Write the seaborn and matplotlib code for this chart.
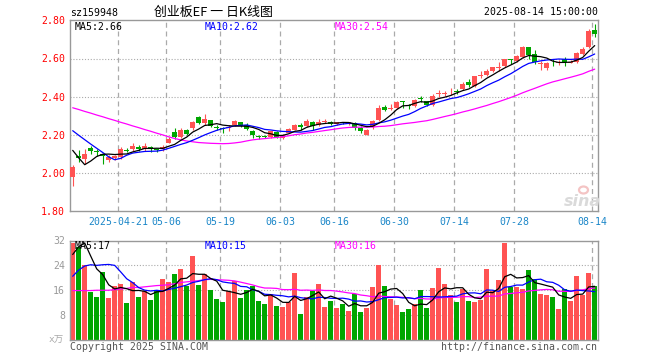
import numpy as np
import pandas as pd
import matplotlib
matplotlib.use("Agg")
import matplotlib.pyplot as plt
import seaborn as sns
from matplotlib.patches import Ellipse

# ---------------- data ----------------
opens = [1.982, 2.090, 2.072, 2.130, 2.115, 2.100, 2.070, 2.078, 2.085, 2.122,
         2.128, 2.137, 2.125, 2.138, 2.122, 2.125, 2.155, 2.213, 2.190, 2.228,
         2.235, 2.295, 2.263, 2.277, 2.240, 2.234, 2.238, 2.250, 2.266, 2.252,
         2.218, 2.196, 2.192, 2.190, 2.213, 2.185, 2.210, 2.228, 2.252, 2.246,
         2.268, 2.250, 2.270, 2.270, 2.255, 2.268, 2.262, 2.263, 2.237, 2.202,
         2.240, 2.277, 2.345, 2.338, 2.342, 2.375, 2.357, 2.352, 2.390, 2.377,
         2.357, 2.415, 2.415, 2.428, 2.430, 2.438, 2.477, 2.455, 2.510, 2.513,
         2.532, 2.550, 2.562, 2.595, 2.585, 2.610, 2.660, 2.622, 2.572, 2.548,
         2.584, 2.578, 2.600, 2.578, 2.582, 2.623, 2.660, 2.748]
highs = [2.044, 2.120, 2.124, 2.142, 2.128, 2.100, 2.095, 2.095, 2.135, 2.130,
         2.155, 2.148, 2.155, 2.140, 2.128, 2.148, 2.190, 2.238, 2.237, 2.232,
         2.272, 2.300, 2.312, 2.280, 2.250, 2.242, 2.250, 2.280, 2.270, 2.260,
         2.225, 2.200, 2.200, 2.222, 2.220, 2.205, 2.236, 2.258, 2.260, 2.285,
         2.272, 2.285, 2.285, 2.275, 2.270, 2.270, 2.270, 2.270, 2.245, 2.230,
         2.278, 2.356, 2.356, 2.360, 2.378, 2.376, 2.363, 2.390, 2.405, 2.380,
         2.412, 2.433, 2.432, 2.447, 2.440, 2.477, 2.495, 2.510, 2.535, 2.544,
         2.557, 2.580, 2.600, 2.600, 2.618, 2.663, 2.662, 2.645, 2.587, 2.583,
         2.600, 2.590, 2.610, 2.590, 2.635, 2.660, 2.757, 2.780]
lows = [1.933, 2.060, 2.050, 2.098, 2.088, 2.050, 2.058, 2.070, 2.075, 2.108,
        2.118, 2.115, 2.118, 2.110, 2.112, 2.118, 2.155, 2.180, 2.182, 2.200,
        2.228, 2.255, 2.250, 2.240, 2.228, 2.210, 2.220, 2.245, 2.240, 2.226,
        2.185, 2.180, 2.185, 2.185, 2.185, 2.180, 2.208, 2.225, 2.228, 2.240,
        2.228, 2.245, 2.260, 2.250, 2.250, 2.255, 2.250, 2.224, 2.210, 2.200,
        2.230, 2.272, 2.324, 2.332, 2.338, 2.340, 2.337, 2.348, 2.370, 2.350,
        2.350, 2.400, 2.403, 2.410, 2.412, 2.435, 2.453, 2.450, 2.500, 2.510,
        2.528, 2.535, 2.558, 2.570, 2.580, 2.605, 2.596, 2.570, 2.540, 2.542,
        2.562, 2.565, 2.562, 2.575, 2.578, 2.620, 2.655, 2.712]
closes = [2.030, 2.080, 2.100, 2.115, 2.110, 2.088, 2.085, 2.088, 2.125, 2.115,
          2.142, 2.125, 2.140, 2.124, 2.120, 2.138, 2.180, 2.190, 2.228, 2.207,
          2.268, 2.260, 2.284, 2.247, 2.236, 2.230, 2.243, 2.275, 2.246, 2.232,
          2.200, 2.190, 2.189, 2.218, 2.190, 2.200, 2.232, 2.254, 2.240, 2.272,
          2.245, 2.268, 2.273, 2.256, 2.266, 2.264, 2.265, 2.238, 2.220, 2.228,
          2.275, 2.342, 2.330, 2.342, 2.374, 2.372, 2.353, 2.384, 2.387, 2.358,
          2.405, 2.418, 2.419, 2.432, 2.425, 2.465, 2.460, 2.508, 2.514, 2.535,
          2.553, 2.555, 2.596, 2.590, 2.614, 2.660, 2.618, 2.580, 2.576, 2.578,
          2.580, 2.582, 2.582, 2.583, 2.630, 2.650, 2.745, 2.730]
volumes = [31.1, 29.9, 24.0, 15.5, 13.9, 21.9, 13.5, 17.3, 17.9, 11.9,
           18.7, 13.9, 15.8, 12.8, 16.2, 19.5, 18.7, 21.1, 22.8, 17.3,
           26.9, 17.6, 21.1, 16.0, 13.1, 12.2, 15.8, 19.0, 13.4, 16.0,
           17.4, 12.5, 11.7, 14.9, 10.9, 10.6, 12.3, 21.5, 8.3, 13.7,
           15.8, 17.9, 10.6, 12.6, 10.3, 11.5, 9.3, 14.9, 9.0, 10.3,
           17.1, 24.0, 17.3, 13.2, 11.2, 9.0, 9.9, 11.7, 16.0, 10.3,
           16.6, 23.0, 17.9, 14.4, 12.2, 16.5, 12.5, 12.2, 13.0, 22.7,
           15.7, 19.2, 31.1, 16.9, 16.9, 16.3, 22.4, 19.7, 14.7, 14.4,
           13.8, 9.9, 16.3, 12.6, 20.5, 14.5, 21.4, 17.3]

# moving-average values at the start of the window (history before the first candle)
ma5_head = [2.119, 2.080, 2.044, 2.063]
ma10_head = [2.222, 2.198, 2.175, 2.152, 2.130, 2.108, 2.085, 2.070, 2.077]
ma30_head = [2.342, 2.333, 2.323, 2.314, 2.304, 2.295, 2.285, 2.276, 2.266, 2.257,
             2.247, 2.238, 2.228, 2.219, 2.209, 2.200, 2.190, 2.181, 2.174, 2.168,
             2.164, 2.160, 2.158, 2.156, 2.155, 2.154, 2.155, 2.158, 2.162]
vma5_head = [27.5, 30.0, 31.2, 27.0]
vma10_head = [20.5, 22.5, 23.8, 24.2, 24.0, 24.2, 24.3, 24.0, 21.9]
vma30_head = [15.9, 15.9, 15.9, 15.9, 16.0, 16.0, 16.0, 16.2, 16.4, 16.6,
              16.9, 16.9, 17.1, 17.3, 17.5, 17.6, 17.8, 18.1, 18.5, 18.7,
              18.9, 19.1, 19.4, 19.5, 19.4, 19.3, 19.2, 19.0, 18.6]

tick_idx = [8, 16, 25, 35, 44, 54, 64, 74, 87]
tick_labels = ["2025-04-21", "05-06", "05-19", "06-03", "06-16",
               "06-30", "07-14", "07-28", "08-14"]
price_ticks = [1.80, 2.00, 2.20, 2.40, 2.60, 2.80]
vol_ticks = [8, 16, 24, 32]

title_code = "sz159948"
title_text = "创业板EF 一 日K线图"
title_time = "2025-08-14 15:00:00"
ma_labels = ["MA5:2.66", "MA10:2.62", "MA30:2.54"]
vma_labels = ["MA5:17", "MA10:15", "MA30:16"]


def moving_avg(values, n, head):
    s = pd.Series(values, dtype=float).rolling(n).mean()
    s.iloc[:len(head)] = head
    return s


# ---------------- style ----------------
sns.set_style("white")
plt.rcParams['font.family'] = ['DejaVu Sans Mono', 'Noto Sans CJK SC']

RED = "#ff5353"
GREEN = "#00a600"
GRID = "#aaaaaa"
SPINE = "#999999"
MA_COLORS = ["#000000", "#0000ff", "#ff00ff"]
FS = 7.1

W, H = 660, 360
fig = plt.figure(figsize=(W / 100, H / 100), dpi=100)


def rect(l, t, r, b):
    return [l / W, 1 - b / H, (r - l) / W, (b - t) / H]


ax = fig.add_axes(rect(70, 20.3, 598, 211.3))
axv = fig.add_axes(rect(70, 240.5, 598, 340))

o = np.array(opens); h = np.array(highs); l = np.array(lows); c = np.array(closes)
n = len(c)
x = np.arange(n)
up = c >= o
colors = np.where(up, RED, GREEN)

# grid
for a, hl in ((ax, price_ticks[1:-1]), (axv, vol_ticks[:-1])):
    for yv in hl:
        a.axhline(yv, color=GRID, lw=0.8, ls=(0, (1, 1.6)), zorder=0)
    for t in tick_idx:
        a.axvline(t - 0.4, color=GRID, lw=0.9, ls=(0, (4, 3)), zorder=0)

# candles
ax.vlines(x, l, h, colors=colors, lw=0.8, zorder=2)
body_bottom = np.minimum(o, c)
body_h = np.maximum(np.abs(c - o), 0.004)
ax.bar(x, body_h, bottom=body_bottom, width=0.78, color=colors, linewidth=0, zorder=3)

# price moving averages
pdf = pd.DataFrame({"i": x,
                    "ma5": moving_avg(closes, 5, ma5_head),
                    "ma10": moving_avg(closes, 10, ma10_head),
                    "ma30": moving_avg(closes, 30, ma30_head)})
for col, colr in zip(["ma30", "ma10", "ma5"], MA_COLORS[::-1]):
    sns.lineplot(data=pdf, x="i", y=col, color=colr, lw=0.9, ax=ax, zorder=4)

# volume bars
vdf = pd.DataFrame({"i": x, "vol": volumes, "dir": np.where(up, "up", "down")})
sns.barplot(data=vdf, x="i", y="vol", hue="dir", palette={"up": RED, "down": GREEN},
            dodge=False, native_scale=True, width=0.88, saturation=1,
            errorbar=None, legend=False, linewidth=0, ax=axv, zorder=2)

vdf2 = pd.DataFrame({"i": x,
                     "ma5": moving_avg(volumes, 5, vma5_head),
                     "ma10": moving_avg(volumes, 10, vma10_head),
                     "ma30": moving_avg(volumes, 30, vma30_head)})
for col, colr in zip(["ma30", "ma10", "ma5"], MA_COLORS[::-1]):
    sns.lineplot(data=vdf2, x="i", y=col, color=colr, lw=0.9, ax=axv, zorder=4)

# axes setup
for a in (ax, axv):
    a.set_xlim(-0.45, 87.55)
    a.set_xlabel("")
    a.set_ylabel("")
    for s in a.spines.values():
        s.set_color(SPINE)
        s.set_linewidth(1.0)
        s.set_visible(True)

ax.set_ylim(1.80, 2.80)
ax.set_yticks(price_ticks, labels=[f"{v:.2f}" for v in price_ticks])
ax.tick_params(axis="y", length=0, pad=3.5, labelsize=FS, labelcolor="#ff0000")
ax.set_xticks([t - 0.4 for t in tick_idx], labels=tick_labels)
ax.tick_params(axis="x", length=0, pad=4, labelsize=FS, labelcolor="#1a86c8")

axv.set_ylim(0, 32)
axv.set_yticks(vol_ticks, labels=[str(v) for v in vol_ticks])
axv.tick_params(axis="y", length=0, pad=3.5, labelsize=FS, labelcolor="#999999")
axv.set_xticks([])


def ftext(px, py, s, **kw):
    fig.text(px / W, 1 - py / H, s, va="center", **kw)


ftext(70, 12.8, title_code, fontsize=FS, color="#000000")
ftext(213.5, 12.0, title_text, fontsize=9.3, color="#000000", ha="center",
      family=["Noto Sans CJK SC", "DejaVu Sans"])
ftext(597.5, 12.3, title_time, fontsize=FS, color="#000000", ha="right")

for px, s, colr in zip([74.5, 204.5, 334.5], ma_labels, MA_COLORS):
    ftext(px, 26.5, s, fontsize=FS, color=colr)
for px, s, colr in zip([74.5, 204.5, 334.5], vma_labels, MA_COLORS):
    ftext(px, 246.0, s, fontsize=FS, color=colr)

ftext(64, 339.5, "x万", fontsize=6.8, color="#aaaaaa", ha="right",
      family=["DejaVu Sans Mono", "Noto Sans CJK SC"])
ftext(70, 346.5, "Copyright 2025 SINA.COM", fontsize=FS, color="#555555")
ftext(597.5, 346.5, "http://finance.sina.com.cn", fontsize=FS, color="#555555", ha="right")

# faint watermark (sina logo)
fig.patches.append(Ellipse((583.5 / W, 1 - 190 / H), 9 / W, 7 / H,
                           transform=fig.transFigure, facecolor="none",
                           edgecolor="#f4c4c4", lw=1.6))
ftext(582, 201.5, "sina", fontsize=11.5, color="#dadada", ha="center",
      family=["DejaVu Sans"], fontweight="bold", fontstyle="italic")

fig.savefig("out.png", dpi=100)
